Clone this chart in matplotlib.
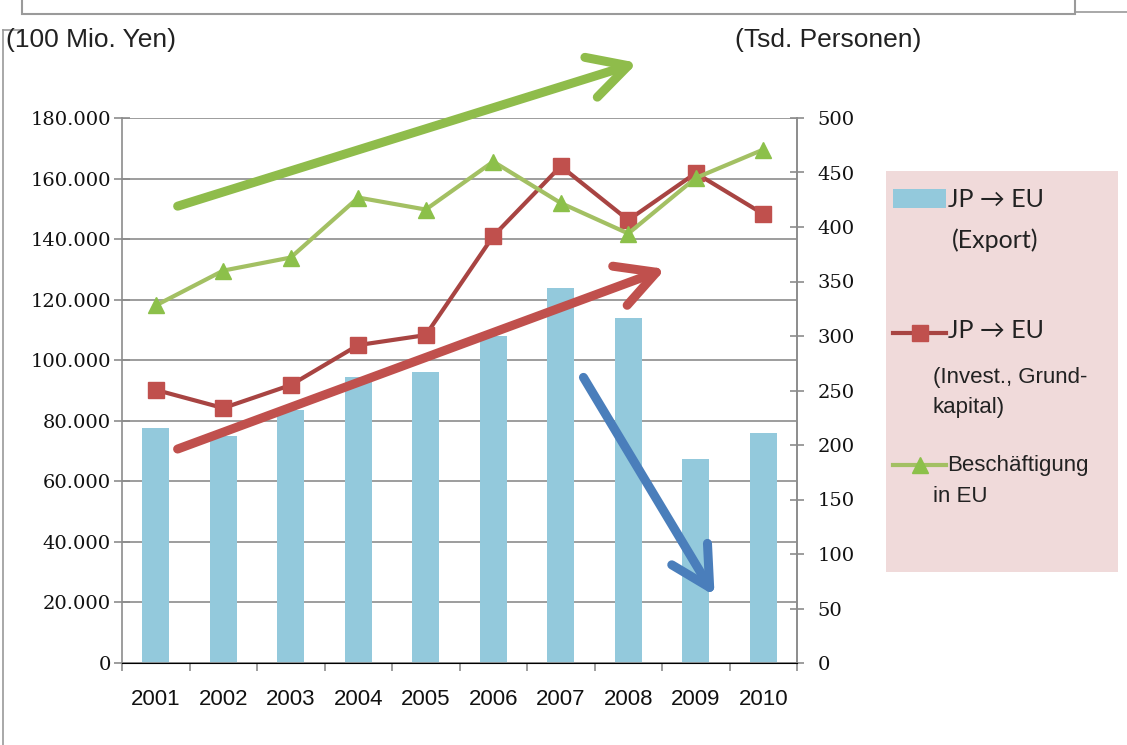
import numpy as np
import matplotlib.pyplot as plt
from matplotlib.patches import Rectangle, FancyArrowPatch
from matplotlib.lines import Line2D

years = ['2001', '2002', '2003', '2004', '2005', '2006', '2007', '2008', '2009', '2010']
export = [77600, 75000, 83500, 94500, 96000, 108000, 123800, 114000, 67400, 76000]
invest = [90200, 84200, 91800, 105000, 108300, 141000, 164100, 146300, 161800, 148300]
employ = [328, 360, 372, 427, 416, 460, 422, 394, 445, 471]

left_ticks = [0, 20000, 40000, 60000, 80000, 100000, 120000, 140000, 160000, 180000]
right_ticks = [0, 50, 100, 150, 200, 250, 300, 350, 400, 450, 500]

W, H = 1127, 745
fig = plt.figure(figsize=(W / 100, H / 100), dpi=100)


def px(x, y):
    return x / W, 1 - y / H


# outer frame and clipped title box
fig.add_artist(Line2D([3 / W, 3 / W], [0, 1 - 30 / H], color='#999999', lw=1.2))
fig.add_artist(Line2D([3 / W, 22 / W], [1 - 30 / H, 1 - 30 / H], color='#999999', lw=1.2))
fig.add_artist(Line2D([1075 / W, 1], [1 - 12 / H, 1 - 12 / H], color='#999999', lw=1.2))
fig.add_artist(Rectangle(px(22, 14), (1075 - 22) / W, 30 / H, transform=fig.transFigure,
                         facecolor='white', edgecolor='#9a9a9a', lw=1.5))

ax = fig.add_axes([122 / W, 82 / H, 675 / W, 545 / H])
x = np.arange(len(years))

ax.bar(x, export, width=0.4, color='#93c9dc', zorder=2)
ax.plot(x, invest, color='#a84442', lw=3, marker='s', markersize=11,
        markerfacecolor='#c0504d', markeredgecolor='#c0504d', zorder=4)

ax.set_xlim(-0.5, 9.5)
ax.set_ylim(0, 180000)
ax.set_yticks(left_ticks)
ax.set_yticklabels([f'{t:,}'.replace(',', '.') for t in left_ticks],
                   family='DejaVu Serif', fontsize=14, color='#111111')
ax.yaxis.grid(True, color='#8c8c8c', lw=1.2, zorder=0)
ax.set_axisbelow(True)
ax.tick_params(axis='y', direction='inout', length=12, color='#8c8c8c', width=1.2, pad=2)

ax.set_xticks(np.arange(-0.5, 10, 1))
ax.set_xticklabels([])
ax.set_xticks(x, minor=True)
ax.set_xticklabels(years, minor=True, family='Liberation Sans', fontsize=16, color='#111111')
ax.tick_params(axis='x', which='major', direction='out', length=6, color='#8c8c8c', width=1.2)
ax.tick_params(axis='x', which='minor', length=0, pad=19)

ax.spines['top'].set_visible(False)
for s in ['left', 'bottom', 'right']:
    ax.spines[s].set_color('#8c8c8c')
    ax.spines[s].set_linewidth(1.2)

ax2 = ax.twinx()
ax2.plot(x, employ, color='#a3c063', lw=3, marker='^', markersize=12,
         markerfacecolor='#8cc04a', markeredgecolor='#8cc04a', zorder=3)
ax2.set_ylim(0, 500)
ax2.set_yticks(right_ticks)
ax2.set_yticklabels([str(t) for t in right_ticks], family='DejaVu Serif',
                    fontsize=14, color='#111111')
ax2.tick_params(axis='y', direction='inout', length=10, color='#8c8c8c', width=1.2, pad=10)
ax2.spines['top'].set_visible(False)
ax2.spines['right'].set_color('#8c8c8c')
ax2.spines['right'].set_linewidth(1.2)
ax2.spines['left'].set_visible(False)

# unit labels
fig.text(*px(6, 40), '(100 Mio. Yen)', family='Liberation Sans', fontsize=19,
         va='center', ha='left', color='#222222')
fig.text(*px(735, 40), '(Tsd. Personen)', family='Liberation Sans', fontsize=19,
         va='center', ha='left', color='#222222')

# legend box
fig.add_artist(Rectangle(px(886, 572), (1118 - 886) / W, (572 - 171) / H,
                         transform=fig.transFigure, facecolor='#f0dada', edgecolor='none'))
fig.add_artist(Rectangle(px(893, 208), (946 - 893) / W, 19 / H, transform=fig.transFigure,
                         facecolor='#93c9dc', edgecolor='none'))
fig.add_artist(Line2D([893 / W, 946 / W], [1 - 333 / H] * 2, color='#a84442', lw=3))
fig.add_artist(Line2D([919.5 / W], [1 - 333 / H], marker='s', markersize=11, color='#c0504d'))
fig.add_artist(Line2D([893 / W, 946 / W], [1 - 465 / H] * 2, color='#a3c063', lw=3))
fig.add_artist(Line2D([919.5 / W], [1 - 465 / H], marker='^', markersize=12, color='#8cc04a'))

lf = ['Lato', 'DejaVu Sans']
af = ['Liberation Sans', 'DejaVu Sans']
leg_text = [
    (948, 199, 'JP \u2192 EU', lf, 18),
    (952, 240, '(Export)', lf, 18),
    (948, 331, 'JP \u2192 EU', lf, 18),
    (933, 377, '(Invest., Grund-', af, 16),
    (933, 408, 'kapital)', af, 16),
    (947, 465, 'Besch\u00e4ftigung', af, 16),
    (933, 497, 'in EU', af, 16),
]
for lx, ly, t, fam, fs in leg_text:
    fig.text(*px(lx, ly), t, family=fam, fontsize=fs, va='center', ha='left', color='#222222')

# trend arrows
arrows = [((175, 207), (640, 62), '#8fbc4b'),
          ((175, 450), (668, 268), '#c0504d'),
          ((582, 375), (716, 598), '#4a7ebb')]
for (x0, y0), (x1, y1), c in arrows:
    a = FancyArrowPatch(px(x0, y0), px(x1, y1), transform=fig.transFigure,
                        arrowstyle='->,head_length=1.4,head_width=0.75', mutation_scale=20,
                        color=c, lw=6.5, capstyle='round', joinstyle='round', zorder=10)
    fig.add_artist(a)

fig.savefig('out.png', dpi=100)
